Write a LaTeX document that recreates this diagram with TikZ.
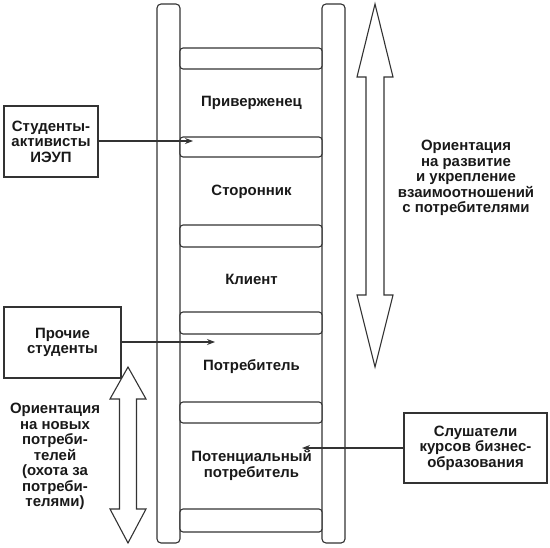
\documentclass[tikz,border=0pt]{standalone}
\usepackage{fontspec}
\setmainfont{Liberation Sans}
\usetikzlibrary{arrows.meta}
\begin{document}
\begin{tikzpicture}[x=1bp,y=-1bp,
  ln/.style={line width=1.1bp,draw=black!80},
  rail/.style={ln,rounded corners=4bp,fill=white},
  rung/.style={ln,rounded corners=3bp,fill=white},
  txt/.style={font=\fontsize{15}{15.5}\selectfont\bfseries,align=center,inner sep=0pt,text=black!90},
  box/.style={ln,fill=white},
  conn/.style={ln,-{Stealth[length=8bp,width=6bp]}},
  dblarrow/.style={ln,fill=white,line join=miter}]
\useasboundingbox (0,0) rectangle (550,548);
% rails
\draw[rail] (157,4) rectangle (180,543);
\draw[rail] (322,4) rectangle (345,543);
% rungs
\foreach \a/\b in {48/69,137/157,225/247,312/334,402/423,509/532}
  \draw[rung] (180,\a) rectangle (322,\b);
% ladder labels
\node[txt] (adh) at (251.5,103) {Приверженец};
\node[txt] (sup) at (251.5,192) {Сторонник};
\node[txt] (cli) at (251.5,279) {Клиент};
\node[txt] (con) at (251.5,367) {Потребитель};
\node[txt] (pot) at (251.5,465.5) {Потенциальный\\потребитель};
% right double arrow
\draw[dblarrow] (375,4) -- (393,77) -- (384,77) -- (384,295) -- (393,295) -- (375,367)
  -- (357,295) -- (366,295) -- (366,77) -- (357,77) -- cycle;
\node[txt] (rtext) at (466,178) {Ориентация\\на развитие\\и укрепление\\взаимоотношений\\с потребителями};
% left double arrow
\draw[dblarrow] (128,367) -- (146,399) -- (136.5,399) -- (136.5,509) -- (146,509) -- (128,543)
  -- (110,509) -- (119.5,509) -- (119.5,399) -- (110,399) -- cycle;
\node[txt] (ltext) at (55,456.5) {Ориентация\\на новых\\потреби-\\телей\\(охота за\\потреби-\\телями)};
% boxes
\node[box,txt,draw,minimum width=94bp,minimum height=71bp] (act) at (51,141.5) {Студенты-\\активисты\\ИЭУП};
\node[box,txt,draw,minimum width=117bp,minimum height=71bp] (oth) at (62.5,342.5) {Прочие\\студенты};
\node[box,txt,draw,minimum width=143bp,minimum height=70bp] (lis) at (475.5,448) {Слушатели\\курсов бизнес-\\образования};
% connectors
\coordinate (t1) at (193,141);
\coordinate (t2) at (215,342);
\coordinate (t3) at (302,448);
\draw[conn] (act.east |- t1) -- (t1);
\draw[conn] (oth.east |- t2) -- (t2);
\draw[conn] (lis.west |- t3) -- (t3);
\end{tikzpicture}
\end{document}
